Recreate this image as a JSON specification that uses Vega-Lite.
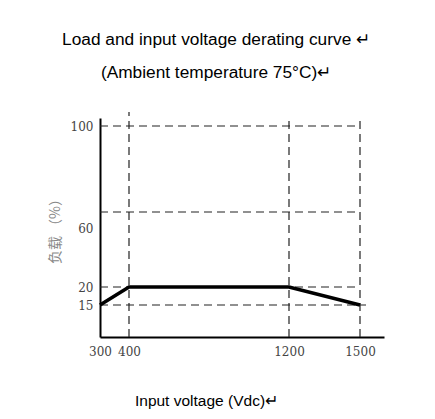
{
  "$schema": "https://vega.github.io/schema/vega-lite/v6.json",
  "width": 284,
  "height": 219,
  "autosize": {"type": "none"},
  "padding": {"left": 100, "top": 118, "right": 51, "bottom": 82},
  "background": "white",
  "config": {"view": {"stroke": null}},
  "title": {
    "text": ["Load and input voltage derating curve ↵", "(Ambient temperature 75°C)↵"],
    "anchor": "middle",
    "frame": "bounds",
    "font": "Liberation Sans",
    "fontSize": 17.3,
    "fontWeight": "normal",
    "color": "#000000",
    "lineHeight": 33,
    "offset": 30
  },
  "datasets": {
    "grid": [
      {"x": 300, "x2": 1500, "y": 100, "y2": 100},
      {"x": 300, "x2": 1500, "y": 60, "y2": 60},
      {"x": 300, "x2": 1500, "y": 20, "y2": 20},
      {"x": 300, "x2": 1525, "y": 15, "y2": 15},
      {"x": 400, "x2": 400, "y": 0, "y2": 106.5},
      {"x": 1200, "x2": 1200, "y": 0, "y2": 104.4},
      {"x": 1500, "x2": 1500, "y": 0, "y2": 104.4}
    ],
    "curve": [
      {"voltage": 300, "load": 15},
      {"voltage": 400, "load": 20},
      {"voltage": 1200, "load": 20},
      {"voltage": 1500, "load": 15}
    ]
  },
  "layer": [
    {
      "data": {"name": "grid"},
      "mark": {"type": "rule", "strokeDash": [8, 5], "strokeWidth": 1.2, "color": "#222222"},
      "encoding": {
        "x": {
          "field": "x", "type": "quantitative",
          "scale": {"domain": [300, 400, 1200, 1500, 1600], "range": [0, 29, 189, 260, 284], "nice": false, "zero": false},
          "axis": {
            "title": "Input voltage (Vdc)↵",
            "values": [300, 400, 1200, 1500],
            "format": "d",
            "grid": false, "ticks": false,
            "labelOverlap": false, "labelFlush": false, "labelBound": false,
            "domainColor": "#000000", "domainWidth": 2,
            "labelFont": "DejaVu Serif", "labelFontSize": 12, "labelColor": "#444444",
            "labelPadding": 9,
            "titleFont": "Liberation Sans", "titleFontSize": 15.5, "titleFontWeight": "normal", "titleColor": "#000000",
            "titleX": 106, "titleY": 68, "titleAlign": "center", "titleBaseline": "alphabetic"
          }
        },
        "x2": {"field": "x2"},
        "y": {
          "field": "y", "type": "quantitative",
          "scale": {"domain": [0, 15, 20, 60, 100, 103.7], "range": [219, 187, 169, 94, 8, 0], "nice": false, "zero": false},
          "axis": {
            "title": "负载 （%）",
            "values": [15, 20, 60, 100],
            "grid": false, "ticks": false,
            "labelOverlap": false, "labelFlush": false, "labelBound": false,
            "domainColor": "#000000", "domainWidth": 2,
            "labelFont": "DejaVu Serif", "labelFontSize": 12, "labelColor": "#444444",
            "labelPadding": 7,
            "labelOffset": {"condition": {"test": "datum.value == 60", "value": 16}, "value": 0},
            "titleFont": "Noto Sans CJK SC", "titleFontSize": 14, "titleFontWeight": "normal", "titleColor": "#888888",
            "titlePadding": 8
          }
        },
        "y2": {"field": "y2"}
      }
    },
    {
      "data": {"name": "curve"},
      "mark": {"type": "line", "color": "#000000", "strokeWidth": 3.5, "strokeJoin": "miter"},
      "encoding": {
        "x": {"field": "voltage", "type": "quantitative"},
        "y": {"field": "load", "type": "quantitative"}
      }
    }
  ]
}
